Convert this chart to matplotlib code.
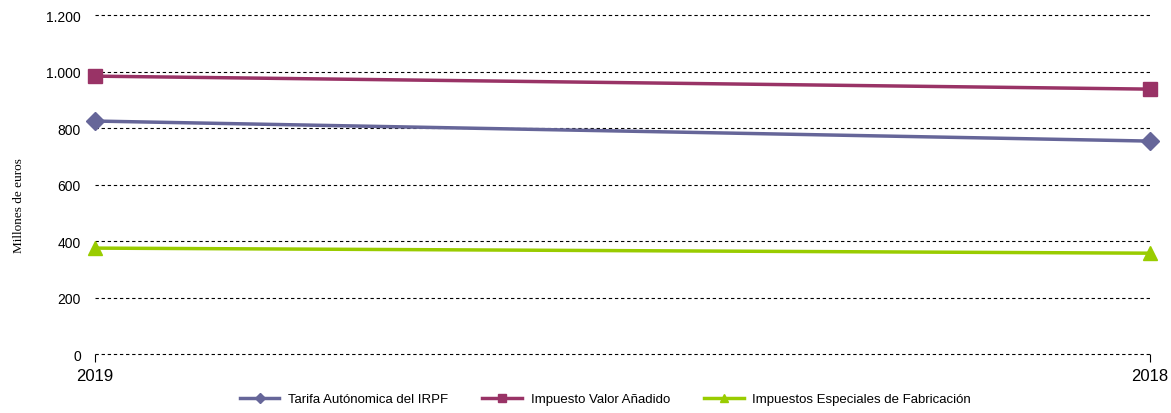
import matplotlib.pyplot as plt
from matplotlib.ticker import FuncFormatter

years = ['2019', '2018']
irpf = [825, 754]
iva = [984, 938]
ief = [375, 357]
series_names = ['Tarifa Autónomica del IRPF', 'Impuesto Valor Añadido',
                'Impuestos Especiales de Fabricación']

plt.rcParams['font.family'] = ['Liberation Sans', 'DejaVu Sans']

fig = plt.figure(figsize=(11.71, 4.14), dpi=100)
ax = fig.add_axes([0.081, 0.1425, 0.901, 0.8185])

x = list(range(len(years)))
ax.plot(x, irpf, color='#666699', lw=2.5, marker='D', ms=9, label=series_names[0], clip_on=False, zorder=3)
ax.plot(x, iva, color='#993366', lw=2.5, marker='s', ms=10, label=series_names[1], clip_on=False, zorder=3)
ax.plot(x, ief, color='#99CC00', lw=2.5, marker='^', ms=10, label=series_names[2], clip_on=False, zorder=3)

ax.set_xlim(0, 1)
ax.set_ylim(0, 1200)
ax.set_yticks(range(0, 1201, 200))
ax.yaxis.set_major_formatter(FuncFormatter(lambda v, p: f'{int(v):,}'.replace(',', '.')))
ax.set_xticks(x)
ax.set_xticklabels(years)
ax.grid(axis='y', color='black', linestyle=(0, (3, 2.5)), lw=0.8)
for gl in ax.yaxis.get_gridlines():
    gl.set_clip_on(False)
ax.set_axisbelow(True)
for s in ax.spines.values():
    s.set_visible(False)
ax.tick_params(axis='y', length=0, pad=10, labelsize=10)
ax.tick_params(axis='x', length=6, width=0.8, direction='out', pad=4, labelsize=12)
ax.set_ylabel('Millones de euros', family='Liberation Serif', fontsize=9.5)
ax.yaxis.set_label_coords(-0.066, 0.44)

ax.legend(loc='center', bbox_to_anchor=(0.484, -0.133), ncol=3, frameon=False,
          fontsize=9.5, handlelength=3, handletextpad=0.65, columnspacing=2.6,
          markerscale=0.55)

fig.savefig('out.png', dpi=100)
